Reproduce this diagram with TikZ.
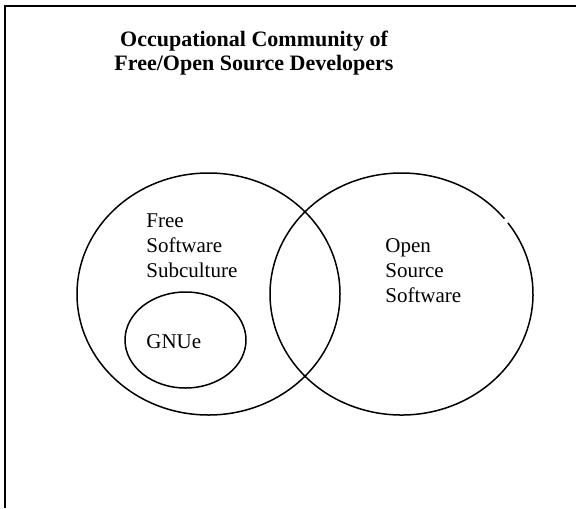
\documentclass[tikz,border=0pt]{standalone}
\usepackage{fontspec}
\setmainfont{Liberation Serif}
\usetikzlibrary{positioning}
\tikzset{
  setline/.style={line width=0.75pt,draw=black},
  framestroke/.style={line width=1pt,draw=black},
  setlabel/.style={align=left,inner sep=0pt,anchor=north west,font=\fontsize{10.5}{12.5}\selectfont},
  headline/.style={align=center,inner sep=0pt,anchor=north,font=\fontsize{11}{12}\selectfont\bfseries}
}

\begin{document}
\begin{tikzpicture}[x=0.5pt,y=-0.5pt]
\useasboundingbox (0,0) rectangle (576,508);
% frame, cut off at right and bottom
\draw[framestroke] (5,508) -- (5,6) -- (576,6);
\node[headline] (title) at (254,31) {Occupational Community of\\Free/Open Source Developers};
% the sets
\coordinate (free) at (208.5,294);
\coordinate (open) at (401.5,294);
\coordinate (gnue) at (185.5,340);
\draw[setline] (free) ellipse [x radius=131.5,y radius=121];
\draw[setline] (open) ++(-36:131.5 and 121) arc [start angle=-36,end angle=321.5,x radius=131.5,y radius=121];
\draw[setline] (gnue) ellipse [x radius=60.5,y radius=48];
\node[setlabel] (fss) at (146,213) {Free\\Software\\Subculture};
\node[setlabel] (oss) at (385,238) {Open\\Source\\Software};
\node[setlabel] (gnuelabel) at (146,334) {GNUe};
\end{tikzpicture}
\end{document}
